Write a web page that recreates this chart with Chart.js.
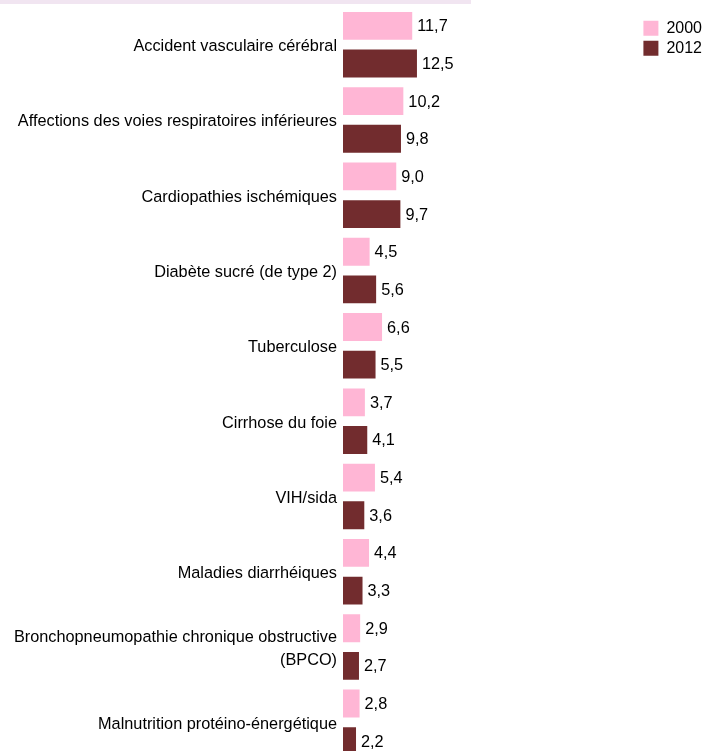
<!DOCTYPE html>
<html>
<head>
<meta charset="utf-8">
<script src="https://cdn.jsdelivr.net/npm/chart.js@4"></script>
<style>
  html, body { margin: 0; padding: 0; background: #fff; overflow: hidden; }
  #band { position: absolute; left: 0; top: 0; width: 471px; height: 4px; background: #f1e5f1; }
  #wrap { position: absolute; left: 0; top: 0; width: 703px; height: 760px; }
</style>
</head>
<body>
<div id="wrap"><canvas id="myChart"></canvas></div>
<div id="band"></div>
<script>
const causes = [
  "Accident vasculaire cérébral",
  "Affections des voies respiratoires inférieures",
  "Cardiopathies ischémiques",
  "Diabète sucré (de type 2)",
  "Tuberculose",
  "Cirrhose du foie",
  "VIH/sida",
  "Maladies diarrhéiques",
  ["Bronchopneumopathie chronique obstructive", "(BPCO)"],
  "Malnutrition protéino-énergétique"
];
const valeurs2000 = [11.7, 10.2, 9.0, 4.5, 6.6, 3.7, 5.4, 4.4, 2.9, 2.8];
const valeurs2012 = [12.5, 9.8, 9.7, 5.6, 5.5, 4.1, 3.6, 3.3, 2.7, 2.2];

const police = '"Liberation Sans", Arial, sans-serif';

// valeurs écrites à droite des barres, avec virgule
const etiquettes = {
  id: 'etiquettes',
  beforeDraw(chart) {
    // descend un peu les libellés de l'axe y
    const items = chart.scales.y.getLabelItems();
    if (!items._decale) {
      items.forEach(it => { it.options.translation[1] += 2; });
      items._decale = true;
    }
  },
  afterDatasetsDraw(chart) {
    const ctx = chart.ctx;
    ctx.save();
    ctx.font = '16.3px ' + police;
    ctx.fillStyle = '#000';
    ctx.textBaseline = 'middle';
    ctx.textAlign = 'left';
    chart.data.datasets.forEach((ds, i) => {
      chart.getDatasetMeta(i).data.forEach((bar, j) => {
        const txt = ds.data[j].toFixed(1).replace('.', ',');
        ctx.fillText(txt, bar.x + 5, bar.y + 1);
      });
    });
    ctx.restore();
  }
};

document.addEventListener('DOMContentLoaded', function() {
  const ctx = document.getElementById('myChart').getContext('2d');
  new Chart(ctx, {
    type: 'bar',
    data: {
      labels: causes,
      datasets: [
        { label: '2000', data: valeurs2000, backgroundColor: '#ffb6d5' },
        { label: '2012', data: valeurs2012, backgroundColor: '#722c2e' }
      ]
    },
    options: {
      indexAxis: 'y',
      responsive: true,
      maintainAspectRatio: false,
      animation: false,
      layout: { padding: { top: 7, right: -9, left: 0, bottom: 0 } },
      datasets: { bar: { categoryPercentage: 1.0, barPercentage: 0.74 } },
      scales: {
        x: { display: false, min: 0, max: 50.1 },
        y: {
          grid: { display: false, drawTicks: false },
          border: { display: false },
          ticks: {
            color: '#000',
            padding: 6,
            font: { family: police, size: 16.3, lineHeight: 1.42 }
          },
          afterFit(scale) {
            scale.width = 343;
            scale.paddingTop = 0;
            scale.paddingBottom = 0;
          }
        }
      },
      plugins: {
        legend: {
          position: 'right',
          align: 'start',
          title: { display: true, text: ' ', font: { size: 6 }, padding: { top: 0, bottom: 2 } },
          labels: {
            boxWidth: 15,
            boxHeight: 15,
            color: '#000',
            padding: 4,
            font: { family: police, size: 16 }
          }
        },
        tooltip: { enabled: false }
      }
    },
    plugins: [etiquettes]
  });
});
</script>
</body>
</html>
